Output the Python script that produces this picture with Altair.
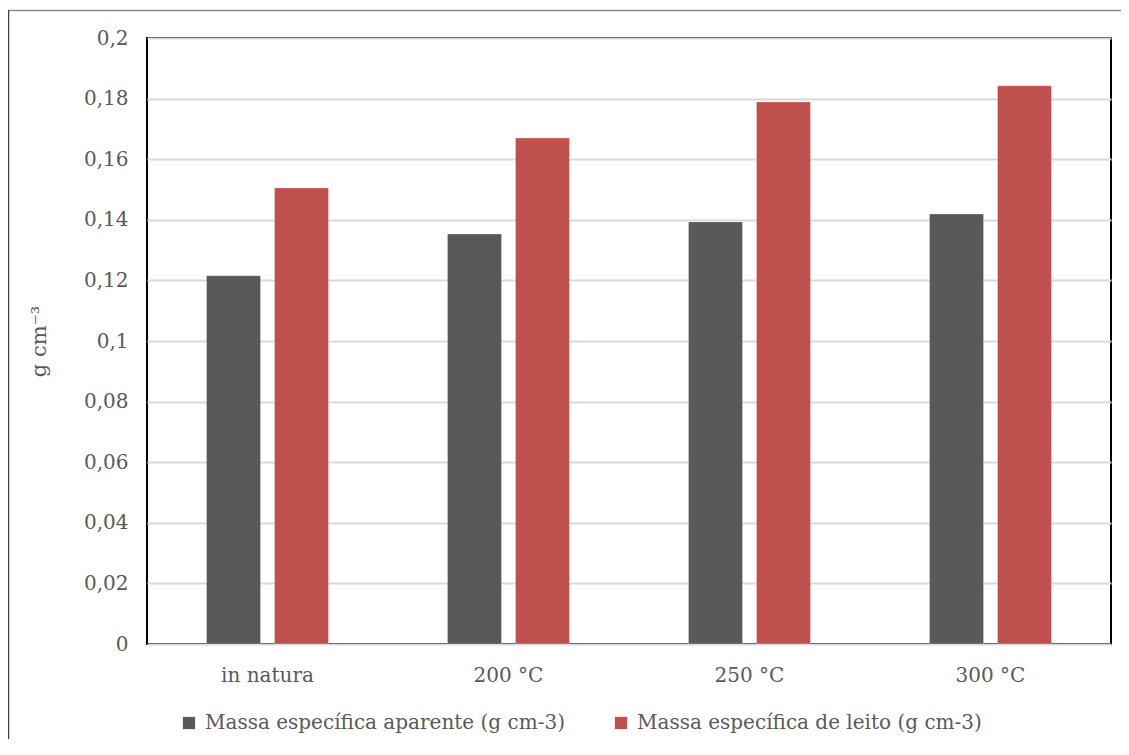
import altair as alt
import pandas as pd

categories = ["in natura", "200 °C", "250 °C", "300 °C"]
series = ["Massa específica aparente (g cm-3)", "Massa específica de leito (g cm-3)"]
aparente = [0.1215, 0.1353, 0.1393, 0.1419]
leito = [0.1505, 0.1670, 0.1789, 0.1842]
y_ticks = [0, 0.02, 0.04, 0.06, 0.08, 0.1, 0.12, 0.14, 0.16, 0.18, 0.2]
colors = ["#595959", "#C0504D"]

rows = []
for c, a, l in zip(categories, aparente, leito):
    rows.append({"cat": c, "series": series[0], "value": a})
    rows.append({"cat": c, "series": series[1], "value": l})
df = pd.DataFrame(rows)

FONT = "DejaVu Serif"
TXT = "#595959"

bars = alt.Chart(df).mark_bar(stroke="#ffffff", strokeOpacity=0.25, strokeWidth=1).encode(
    x=alt.X("cat:N", sort=categories,
            scale=alt.Scale(paddingInner=0.494, paddingOuter=0.247),
            axis=alt.Axis(title=None, labelAngle=0, ticks=False, domain=False,
                          labelPadding=21, labelFontSize=20, labelColor=TXT,
                          labelFont=FONT)),
    xOffset=alt.XOffset("series:N", sort=series,
                        scale=alt.Scale(paddingInner=0.206, paddingOuter=0)),
    y=alt.Y("value:Q", scale=alt.Scale(domain=[0, 0.2]),
            axis=alt.Axis(values=y_ticks, title="g cm⁻³", grid=True,
                          gridColor="#d9d9d9", gridWidth=2, domain=False,
                          ticks=False, labelPadding=19, labelFontSize=20,
                          labelColor=TXT, labelFont=FONT,
                          labelExpr="replace(format(datum.value, '~g'), '.', ',')",
                          titleFont=FONT, titleFontSize=21, titleColor=TXT,
                          titleFontWeight="normal", titleAngle=-90,
                          titleX=-108, titleY=303, titleAlign="center",
                          titleBaseline="middle")),
    color=alt.Color("series:N", sort=series,
                    scale=alt.Scale(domain=series, range=colors),
                    legend=alt.Legend(title=None, orient="none", legendX=32,
                                      legendY=675, direction="horizontal",
                                      symbolType="square", symbolSize=150,
                                      symbolStrokeWidth=0, labelFontSize=20,
                                      labelFont=FONT, labelColor=TXT,
                                      labelLimit=0,
                                      columnPadding=46, labelOffset=6)),
)

frame_df = pd.DataFrame({"a": [0]})
top_line = alt.Chart(frame_df).mark_rule(color="#8c8c8c", strokeWidth=1.5).encode(
    x=alt.value(-139), x2=alt.value(1010), y=alt.value(-27.5))
left_line = alt.Chart(frame_df).mark_rule(color="#404040", strokeWidth=1.5).encode(
    x=alt.value(-138.5), y=alt.value(-28), y2=alt.value(760))

chart = alt.layer(bars, top_line, left_line).properties(
    width=964, height=606,
    autosize=alt.AutoSizeParams(type="none"),
    padding={"left": 139, "top": 30, "right": 10, "bottom": 95},
).configure_view(stroke="black", strokeWidth=2)

chart.save("out.html", embed_options={"renderer": "svg", "actions": False})
